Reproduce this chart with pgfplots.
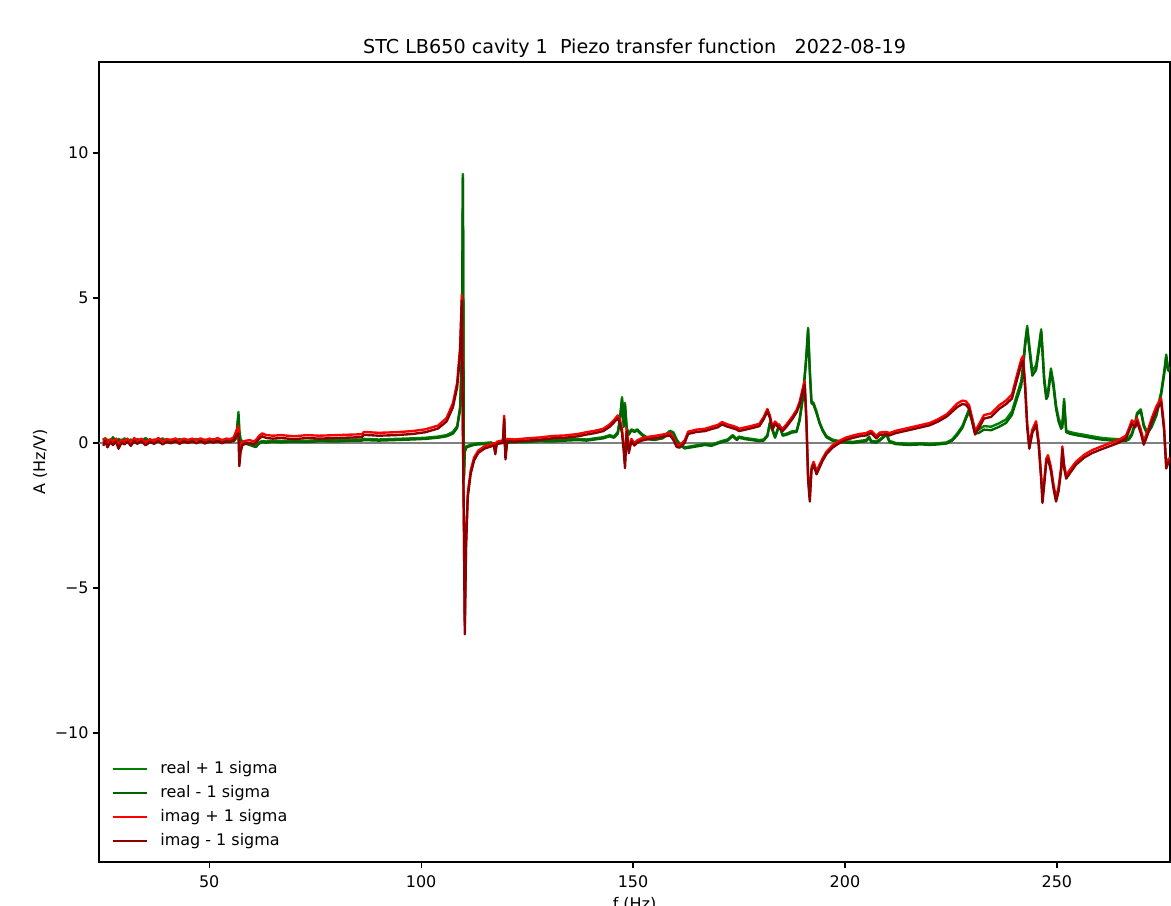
\documentclass[border=0pt]{standalone}
\usepackage{fontspec}
\setmainfont{DejaVu Sans}
\usepackage{pgfplots}
\pgfplotsset{compat=1.18}
\usepackage{pgfplotstable}

\definecolor{mplgreen}{HTML}{008000}
\definecolor{mpldarkgreen}{HTML}{006400}
\definecolor{mplred}{HTML}{FF0000}
\definecolor{mpldarkred}{HTML}{8B0000}

% f (Hz), real +/- 1 sigma, imag +/- 1 sigma  (Hz/V)
\pgfplotstableread{
f rp rm ip im
25.0 0.17 0.13 0.00 -0.10
25.5 0.04 0.00 0.17 0.07
26.0 0.12 0.08 -0.05 -0.15
26.7 0.07 0.03 0.13 0.03
27.3 0.20 0.16 0.03 -0.07
28.0 0.05 0.01 0.15 0.05
28.6 0.14 0.10 -0.10 -0.20
29.3 0.08 0.04 0.11 0.01
30.0 0.16 0.12 0.05 -0.05
30.7 0.06 0.02 0.15 0.05
31.5 0.12 0.08 0.00 -0.10
32.3 0.04 0.00 0.17 0.07
33.0 0.14 0.10 0.07 -0.03
34.0 0.07 0.03 0.15 0.05
35.0 0.17 0.13 0.02 -0.08
36.0 0.06 0.02 0.13 0.03
37.0 0.12 0.08 0.07 -0.03
38.0 0.08 0.04 0.17 0.07
39.0 0.16 0.12 0.05 -0.05
40.0 0.05 0.01 0.14 0.04
41.0 0.12 0.08 0.09 -0.01
42.0 0.07 0.03 0.16 0.06
43.0 0.14 0.10 0.07 -0.03
44.0 0.06 0.02 0.15 0.05
45.0 0.11 0.07 0.10 0.00
46.0 0.07 0.03 0.15 0.05
47.0 0.14 0.10 0.09 -0.01
48.0 0.08 0.04 0.16 0.06
49.0 0.12 0.08 0.08 -0.02
50.0 0.06 0.02 0.15 0.05
51.0 0.13 0.09 0.11 0.01
52.0 0.07 0.03 0.17 0.07
53.0 0.11 0.07 0.09 -0.01
54.0 0.08 0.04 0.15 0.05
55.0 0.12 0.08 0.13 0.03
55.8 0.10 0.06 0.20 0.10
56.4 0.24 0.16 0.42 0.28
56.9 1.07 0.95 0.57 0.33
57.1 0.45 0.35 -0.48 -0.80
57.4 0.12 0.05 -0.13 -0.32
57.8 0.06 0.00 0.04 -0.08
58.5 0.02 -0.02 0.07 -0.03
59.5 -0.03 -0.07 0.10 0.00
60.5 -0.08 -0.12 0.05 -0.05
61.0 -0.10 -0.14 0.10 0.00
61.8 0.02 -0.02 0.25 0.15
62.5 0.07 0.03 0.33 0.23
63.5 0.05 0.01 0.27 0.17
65.0 0.08 0.04 0.25 0.15
67.0 0.06 0.02 0.27 0.17
70.0 0.08 0.04 0.23 0.13
73.0 0.07 0.03 0.27 0.17
76.0 0.10 0.06 0.25 0.15
80.0 0.09 0.05 0.27 0.17
84.0 0.12 0.08 0.29 0.19
86.0 0.12 0.08 0.30 0.20
86.5 0.14 0.10 0.38 0.28
90.0 0.12 0.08 0.35 0.25
94.0 0.14 0.10 0.37 0.27
98.0 0.16 0.12 0.41 0.31
101.0 0.18 0.14 0.47 0.37
104.0 0.22 0.18 0.60 0.50
106.0 0.27 0.23 0.86 0.74
107.5 0.38 0.32 1.37 1.23
108.5 0.58 0.52 2.08 1.92
109.2 1.25 1.15 3.32 3.08
109.6 3.10 2.90 5.10 4.90
109.85 9.28 9.15 0.60 0.40
110.1 -1.15 -1.25 -2.90 -3.10
110.3 -0.28 -0.32 -6.30 -6.60
110.6 -0.13 -0.17 -3.40 -3.60
111.0 -0.10 -0.14 -1.73 -1.87
111.7 -0.06 -0.10 -0.94 -1.06
112.5 -0.03 -0.07 -0.50 -0.60
113.5 -0.01 -0.05 -0.26 -0.34
115.0 0.00 -0.04 -0.11 -0.19
116.5 0.02 -0.02 -0.04 -0.12
117.2 -0.03 -0.07 -0.01 -0.09
117.5 -0.28 -0.32 -0.31 -0.39
117.8 0.02 -0.02 0.04 -0.04
119.3 0.04 0.00 0.09 0.01
119.6 0.32 0.28 0.94 0.83
119.9 -0.28 -0.32 -0.43 -0.57
120.3 0.05 0.01 0.14 0.06
122.0 0.06 0.02 0.12 0.04
125.0 0.07 0.03 0.16 0.08
128.0 0.10 0.06 0.19 0.11
131.0 0.09 0.05 0.24 0.16
134.0 0.12 0.08 0.26 0.18
137.0 0.14 0.10 0.31 0.23
139.0 0.12 0.08 0.37 0.29
141.0 0.16 0.12 0.42 0.34
143.0 0.20 0.16 0.49 0.41
144.5 0.27 0.23 0.64 0.56
145.5 0.22 0.18 0.79 0.71
146.4 0.38 0.32 0.95 0.85
146.9 0.85 0.75 0.80 0.70
147.4 1.58 1.50 0.47 0.33
147.8 0.65 0.55 -0.13 -0.27
148.1 1.38 1.30 -0.68 -0.87
148.5 0.53 0.47 0.50 0.40
149.0 0.32 0.28 -0.25 -0.35
149.6 0.47 0.43 0.14 0.06
150.3 0.42 0.38 -0.01 -0.09
151.0 0.47 0.43 0.09 0.01
152.0 0.32 0.28 0.16 0.08
153.5 0.17 0.13 0.21 0.13
155.0 0.14 0.10 0.24 0.16
157.0 0.20 0.16 0.29 0.21
158.7 0.42 0.38 0.34 0.26
159.5 0.37 0.33 0.19 0.11
160.3 0.12 0.08 -0.06 -0.14
161.0 -0.03 -0.07 -0.08 -0.16
162.2 -0.15 -0.19 0.09 0.01
163.0 -0.13 -0.17 0.39 0.31
165.0 -0.08 -0.12 0.46 0.38
167.0 -0.03 -0.07 0.49 0.41
168.5 -0.06 -0.10 0.56 0.48
170.0 0.02 -0.02 0.62 0.54
171.0 0.07 0.03 0.72 0.64
172.3 0.12 0.08 0.64 0.56
173.5 0.27 0.23 0.59 0.51
174.5 0.14 0.10 0.54 0.46
175.0 0.22 0.18 0.49 0.41
176.5 0.17 0.13 0.54 0.46
178.0 0.14 0.10 0.59 0.51
179.8 0.10 0.06 0.66 0.58
180.8 0.12 0.08 0.89 0.81
181.7 0.27 0.23 1.17 1.09
182.3 0.72 0.68 0.94 0.86
182.9 0.47 0.43 0.54 0.46
183.5 0.22 0.18 0.74 0.66
184.5 0.64 0.60 0.59 0.51
185.3 0.29 0.25 0.49 0.41
186.2 0.32 0.28 0.64 0.56
187.5 0.40 0.36 0.89 0.81
188.6 0.42 0.38 1.14 1.06
189.3 0.83 0.77 1.42 1.32
190.0 1.54 1.46 1.86 1.74
190.5 2.35 2.25 2.12 2.00
190.9 3.05 2.95 0.87 0.73
191.3 3.97 3.90 -1.13 -1.27
191.7 2.55 2.45 -1.88 -2.02
192.1 1.43 1.37 -0.85 -0.95
192.6 1.38 1.32 -0.65 -0.75
193.3 1.08 1.02 -0.98 -1.08
194.0 0.72 0.68 -0.75 -0.85
194.7 0.47 0.43 -0.54 -0.62
195.6 0.24 0.20 -0.31 -0.39
197.0 0.12 0.08 -0.09 -0.17
198.5 0.07 0.03 0.06 -0.02
200.3 0.05 0.01 0.19 0.11
202.0 0.04 0.00 0.26 0.18
203.4 0.07 0.03 0.31 0.23
205.0 0.10 0.06 0.34 0.26
205.7 0.22 0.18 0.39 0.31
206.2 0.07 0.03 0.42 0.34
207.4 0.05 0.01 0.24 0.16
208.2 0.12 0.08 0.36 0.28
209.8 0.32 0.28 0.38 0.30
210.5 0.07 0.03 0.34 0.26
212.0 0.00 -0.04 0.42 0.34
215.0 -0.03 -0.07 0.52 0.44
218.0 -0.01 -0.05 0.62 0.54
220.0 -0.03 -0.07 0.69 0.61
222.0 -0.01 -0.05 0.82 0.74
224.0 0.02 -0.02 0.99 0.91
225.3 0.12 0.08 1.18 1.08
226.5 0.33 0.27 1.36 1.24
227.7 0.58 0.52 1.46 1.34
228.5 0.88 0.82 1.44 1.32
229.3 1.18 1.08 1.30 1.18
230.0 0.85 0.75 0.86 0.74
230.7 0.43 0.33 0.39 0.29
231.5 0.46 0.34 0.61 0.49
232.8 0.58 0.46 0.96 0.84
234.5 0.56 0.44 1.02 0.90
236.4 0.68 0.56 1.30 1.18
238.0 0.81 0.69 1.46 1.34
239.4 1.09 0.97 1.67 1.53
240.6 1.67 1.53 2.35 2.19
241.6 2.14 1.98 2.88 2.72
242.0 2.68 2.52 3.00 2.84
242.5 3.47 3.33 2.07 1.93
243.0 4.04 3.94 0.67 0.53
243.5 3.37 3.23 -0.08 -0.20
244.2 2.48 2.32 0.46 0.34
245.1 2.68 2.52 0.75 0.63
245.7 3.27 3.13 0.07 -0.07
246.3 3.92 3.83 -1.13 -1.27
246.6 3.27 3.13 -1.88 -2.07
247.0 2.27 2.13 -1.33 -1.47
247.5 1.65 1.51 -0.54 -0.66
247.9 1.77 1.63 -0.42 -0.54
248.6 2.57 2.45 -0.83 -0.97
249.2 2.07 1.93 -1.43 -1.57
249.8 1.30 1.18 -1.90 -2.02
250.4 0.86 0.74 -1.53 -1.67
251.0 0.61 0.49 -0.84 -0.96
251.3 0.66 0.54 -0.12 -0.22
251.7 1.52 1.43 -0.74 -0.86
252.2 0.43 0.37 -1.11 -1.23
253.0 0.38 0.32 -0.94 -1.06
254.5 0.33 0.27 -0.65 -0.75
256.5 0.28 0.22 -0.40 -0.50
258.3 0.23 0.17 -0.25 -0.35
260.3 0.18 0.12 -0.13 -0.23
262.3 0.15 0.09 -0.02 -0.12
264.5 0.13 0.07 0.10 0.00
266.3 0.13 0.07 0.25 0.15
267.0 0.18 0.12 0.50 0.40
267.7 0.33 0.27 0.78 0.66
268.5 0.73 0.67 0.66 0.54
268.9 1.03 0.97 0.86 0.74
269.8 1.16 1.10 0.46 0.34
270.5 0.63 0.57 0.06 -0.06
271.3 0.37 0.31 0.36 0.24
272.4 0.64 0.56 0.86 0.74
273.5 1.05 0.95 1.27 1.13
274.6 1.75 1.65 1.54 1.42
275.3 2.45 2.35 0.57 0.43
275.8 3.05 2.95 -0.76 -0.88
276.2 2.62 2.52 -0.60 -0.72
276.7 2.55 2.45 -0.50 -0.62
}\tf

\begin{document}
\begin{tikzpicture}
\begin{axis}[
  name=ax, at={(0,0)}, anchor=south west,
  scale only axis, width=771.1pt, height=576pt,
  xmin=24, xmax=276.7, ymin=-14.45, ymax=13.14,
  xtick={50,100,150,200,250}, xticklabels={50,100,150,200,250},
  ytick={-10,-5,0,5,10}, yticklabels={−10,−5,0,5,10},
  tick align=outside, tick pos=left,
  major tick length=4pt,
  every tick/.style={black, line width=0.9pt},
  axis line style={line width=0.9pt, black},
  ticklabel style={font=\fontsize{11.5}{13.8}\selectfont},
  xticklabel style={yshift=-2.5pt},
  title={STC LB650 cavity 1\ \ Piezo transfer function\ \ \ 2022-08-19},
  title style={font=\fontsize{13.8}{16.5}\selectfont, at={(axis description cs:0.5,1)},
    anchor=base, yshift=0pt, inner sep=0pt},
  xlabel={f (Hz)},
  every axis x label/.style={at={(axis description cs:0.5,-0.0445)}, anchor=north,
    inner sep=0pt, font=\fontsize{11.5}{13.8}\selectfont},
  ylabel={A (Hz/V)},
  every axis y label/.style={at={(axis description cs:-0.0551,0.5)}, rotate=90,
    anchor=center, inner sep=0pt, font=\fontsize{11.5}{13.8}\selectfont},
  legend cell align=left,
  legend image code/.code={\draw[line width=1.7pt, #1] (0pt,0pt) -- (24.5pt,0pt);},
  legend style={at={(axis description cs:0.0119,0.0165)}, anchor=south west,
    draw=none, fill=none, inner xsep=0pt, inner ysep=0pt,
    font=\fontsize{11.5}{13.8}\selectfont, row sep=6.6pt,
    nodes={inner xsep=0pt, inner ysep=0pt, text height=8.4pt, text depth=2.3pt},
    /tikz/every odd column/.append style={column sep=8.6pt}},
]
\addplot[gray, line width=1.7pt, forget plot] coordinates {(24,0) (276.7,0)};
\addplot[mplgreen, line width=1.7pt, line join=round] table[x=f, y=rp] {\tf};
\addlegendentry{real + 1 sigma}
\addplot[mpldarkgreen, line width=1.7pt, line join=round] table[x=f, y=rm] {\tf};
\addlegendentry{real - 1 sigma}
\addplot[mplred, line width=1.7pt, line join=round] table[x=f, y=ip] {\tf};
\addlegendentry{imag + 1 sigma}
\addplot[mpldarkred, line width=1.7pt, line join=round] table[x=f, y=im] {\tf};
\addlegendentry{imag - 1 sigma}
\end{axis}
\pgfresetboundingbox
\path[use as bounding box] (-71.3pt,-31.7pt) rectangle (771.8pt,620.6pt);
\end{tikzpicture}
\end{document}
